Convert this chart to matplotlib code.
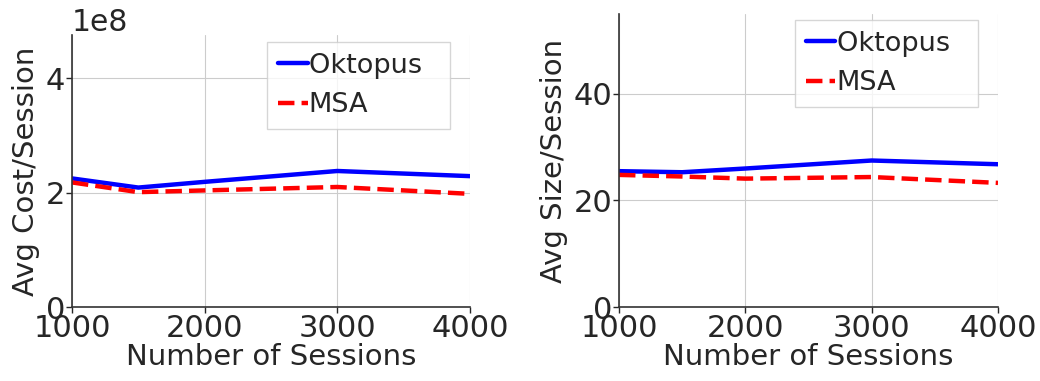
import matplotlib
matplotlib.use("Agg")
import matplotlib.pyplot as plt
import seaborn as sns

sessions = [1000, 1500, 2000, 3000, 4000]
cost_oktopus = [2.25e8, 2.09e8, 2.19e8, 2.38e8, 2.29e8]
cost_msa = [2.18e8, 2.01e8, 2.04e8, 2.10e8, 1.98e8]
size_oktopus = [25.5, 25.3, 26.0, 27.5, 26.8]
size_msa = [24.8, 24.5, 24.1, 24.4, 23.3]
xticks = [1000, 2000, 3000, 4000]

sns.set_style("whitegrid")
plt.rcParams['font.family'] = ['DejaVu Sans']

fig, (ax1, ax2) = plt.subplots(1, 2, figsize=(10.4, 3.81), dpi=100)

panels = [
    (ax1, cost_oktopus, cost_msa, "Avg Cost/Session", [0, 2e8, 4e8], (0.95, 0.974)),
    (ax2, size_oktopus, size_msa, "Avg Size/Session", [0, 20, 40], (0.947, 0.98)),
]
for ax, okt, msa, ylabel, yt, anchor in panels:
    ax.plot(sessions, okt, color='blue', lw=3.2, label='Oktopus  ')
    ax.plot(sessions, msa, color='red', lw=3.2, ls='--', label='MSA')
    ax.set_xlim(1000, 4000)
    ax.set_ylim(0, 2 * max(okt))
    ax.set_xticks(xticks)
    ax.set_yticks(yt)
    ax.set_xlabel("Number of Sessions", fontsize=21, labelpad=0, color='#262626')
    ax.set_ylabel(ylabel, fontsize=21, color='#262626')
    ax.tick_params(labelsize=22, length=4, width=1, left=True, bottom=True,
                   colors='#262626', pad=1)
    for s in ['top', 'right']:
        ax.spines[s].set_visible(False)
    for s in ['left', 'bottom']:
        ax.spines[s].set_color('#333333')
        ax.spines[s].set_linewidth(1.2)
    ax.legend(loc='upper right', bbox_to_anchor=anchor, fontsize=19.5,
              handlelength=1.1, handletextpad=0.05, borderaxespad=0.0,
              frameon=True, fancybox=False)

ax1.yaxis.get_offset_text().set_fontsize(21.5)

ax1.set_position([0.0692, 0.1942, 0.3827, 0.714])
ax2.set_position([0.5952, 0.1942, 0.3644, 0.769])

fig.savefig("out.png", dpi=100)
